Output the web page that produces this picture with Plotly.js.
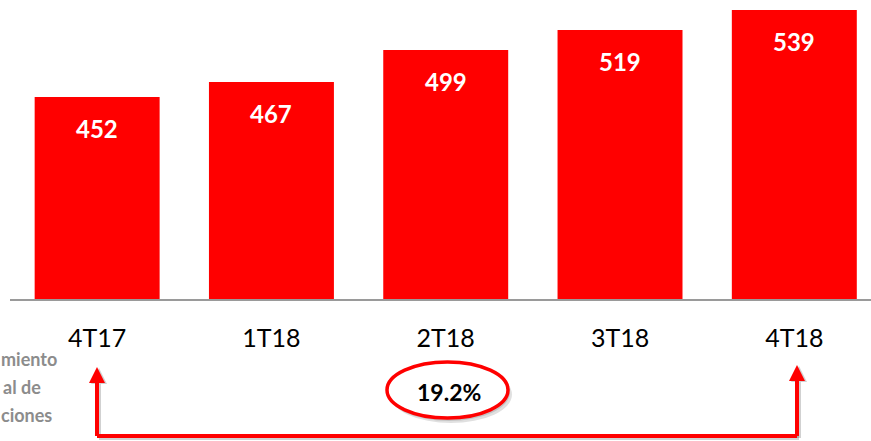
<!DOCTYPE html>
<html>
<head>
<meta charset="utf-8">
<script src="https://cdn.plot.ly/plotly-3.0.1.min.js"></script>
<style>
html,body{margin:0;padding:0;background:#fff;overflow:hidden;}
#chart{width:871px;height:441px;}
</style>
</head>
<body>
<div id="chart"></div>
<script>
// Data
var categories = ['4T17', '1T18', '2T18', '3T18', '4T18'];
var values = [452, 467, 499, 519, 539];
var growthLabel = '19.2%';
// side label as visible in the (cropped) reference
var sideLabel = ['miento', 'al de', 'ciones'];

var W = 871, H = 441, L = 10, T = 0, B = 142;
var plotW = W - L, plotH = H - T - B;
function px(x){ return (x - L) / plotW; }
function py(y){ return (T + plotH - y) / plotH; }

var red = '#ff0000';
var font = 'Lato, "Open Sans", "Liberation Sans", sans-serif';

var trace = {
  type: 'bar',
  x: categories,
  y: values,
  marker: {color: red, line: {width: 0}},
  hoverinfo: 'skip'
};

var annotations = values.map(function(v, i){
  return {
    x: categories[i], y: v, xref: 'x', yref: 'y',
    text: '<b>' + v + '</b>', showarrow: false,
    yanchor: 'middle', yshift: -31,
    font: {family: font, size: 24, color: '#ffffff'}
  };
});

var sideLeft = [0, 2, 0];
var sideY = [359, 387, 415];
sideLabel.forEach(function(t, i){
  annotations.push({
    xref: 'paper', yref: 'paper', x: px(sideLeft[i]), y: py(sideY[i]),
    xanchor: 'left', yanchor: 'middle', showarrow: false,
    text: '<b>' + t + '</b>', borderpad: 0,
    font: {family: font, size: 18, color: '#8c8c8c'}
  });
});

annotations.push({
  xref: 'paper', yref: 'paper', x: px(449), y: py(392),
  xanchor: 'center', yanchor: 'middle', showarrow: false,
  text: '<b>' + growthLabel + '</b>',
  font: {family: font, size: 23, color: '#000000'}
});

var lx = 97, rx = 797, by = 436, topL = 382, topR = 380;
var shapes = [];
function line(x0, y0, x1, y1, color, w){
  shapes.push({type: 'line', xref: 'paper', yref: 'paper',
    x0: px(x0), y0: py(y0), x1: px(x1), y1: py(y1),
    line: {color: color, width: w}});
}
function tri(cx, tipY, color){
  var p = 'M ' + px(cx - 8) + ' ' + py(tipY + 16) + ' L ' + px(cx) + ' ' + py(tipY) +
          ' L ' + px(cx + 8) + ' ' + py(tipY + 16) + ' Z';
  shapes.push({type: 'path', xref: 'paper', yref: 'paper', path: p,
    fillcolor: color, line: {width: 0}});
}
var sh = 'rgba(0,0,0,0.18)';
line(lx + 2, by + 2, rx + 2, by + 2, sh, 4);
line(lx + 2, by + 2, lx + 2, topL + 2, sh, 4);
line(rx + 2, by + 2, rx + 2, topR + 2, sh, 4);
tri(lx + 2, 368, sh);
tri(rx + 2, 366, sh);
line(lx, by, rx, by, red, 4);
line(lx, by, lx, topL, red, 4);
line(rx, by, rx, topR, red, 4);
tri(lx, 367, red);
tri(rx, 365, red);
shapes.push({type: 'circle', xref: 'paper', yref: 'paper',
  x0: px(390), x1: px(512), y0: py(366), y1: py(423),
  fillcolor: 'rgba(0,0,0,0.12)', line: {width: 0}});
shapes.push({type: 'circle', xref: 'paper', yref: 'paper',
  x0: px(388), x1: px(510), y0: py(364), y1: py(421),
  fillcolor: 'rgba(0,0,0,0.12)', line: {width: 0}});
shapes.push({type: 'circle', xref: 'paper', yref: 'paper',
  x0: px(387), x1: px(508), y0: py(362), y1: py(418),
  fillcolor: '#ffffff', line: {color: red, width: 3.5}});

var layout = {
  width: W, height: H,
  margin: {l: L, r: 0, t: T, b: B, pad: 0},
  paper_bgcolor: '#ffffff', plot_bgcolor: '#ffffff',
  showlegend: false,
  bargap: 0.283,
  xaxis: {
    type: 'category', range: [-0.5, 4.44],
    showline: true, linecolor: '#9a9a9a', linewidth: 2,
    showgrid: false, zeroline: false, ticks: '',
    ticklabelstandoff: 16,
    tickfont: {family: font, size: 25, color: '#000000'}
  },
  yaxis: {
    range: [250, 549], visible: false, showgrid: false, zeroline: false
  },
  annotations: annotations,
  shapes: shapes
};

Plotly.newPlot('chart', [trace], layout, {displayModeBar: false, staticPlot: true});
</script>
</body>
</html>
